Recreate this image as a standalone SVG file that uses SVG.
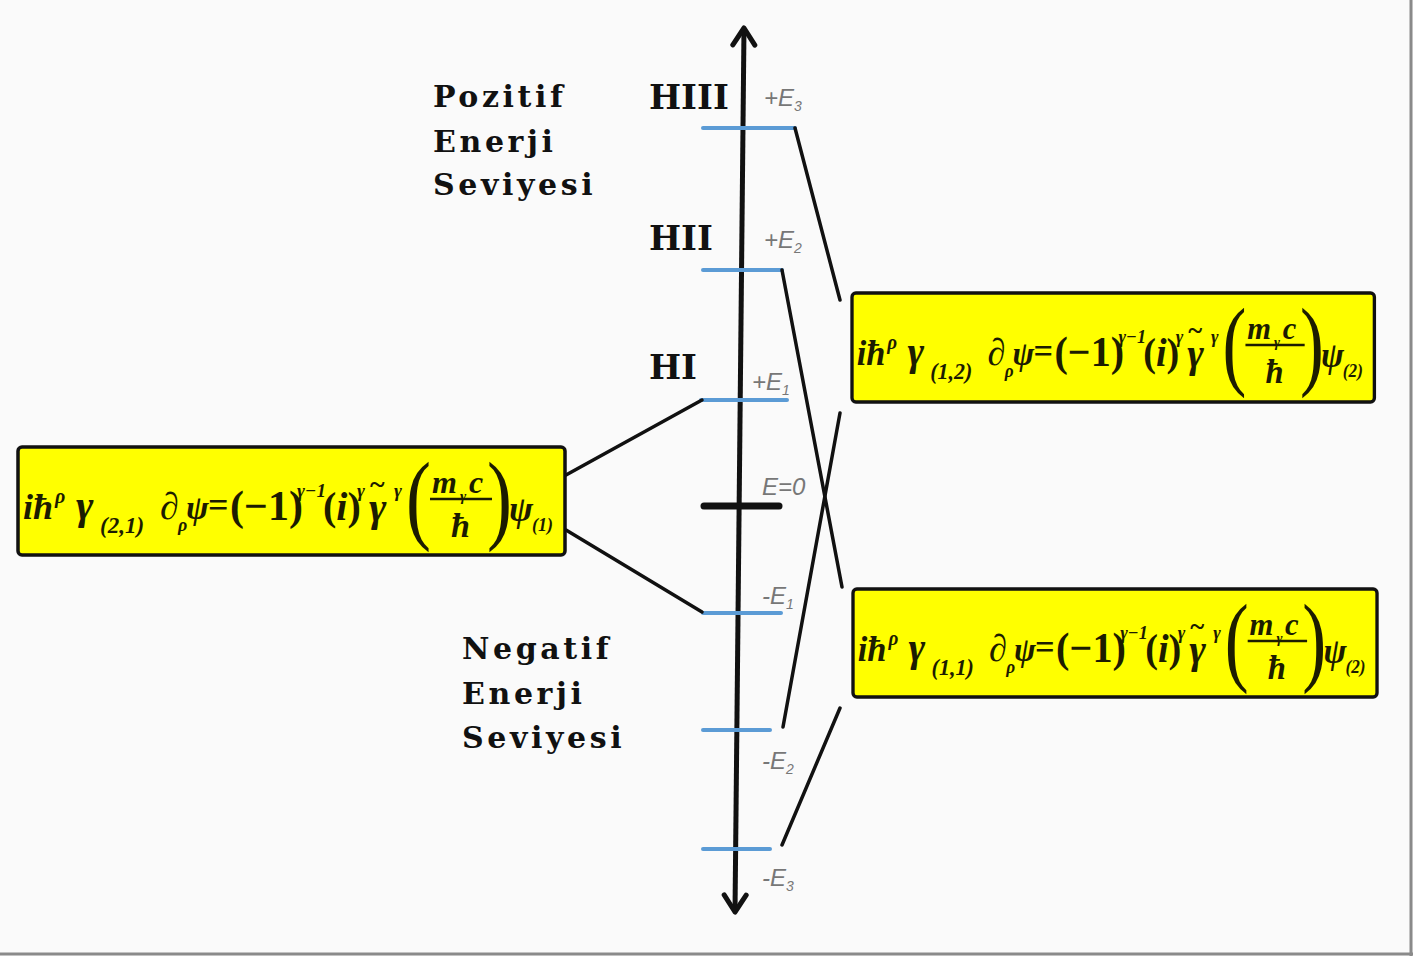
<svg xmlns="http://www.w3.org/2000/svg" width="1413" height="956" viewBox="0 0 1413 956">
<style>
.lbl{font-family:"DejaVu Serif","Liberation Serif",serif;font-weight:bold;font-size:30px;letter-spacing:3.6px;fill:#111}
.lvl{stroke:#5b9bd5;stroke-width:4;stroke-linecap:round}
.con{stroke:#111;stroke-width:3.5;fill:none;stroke-linecap:round}
.el{font-family:"Liberation Sans","DejaVu Sans",sans-serif;font-style:italic;font-size:24px;fill:#777}
.box{fill:#ffff00;stroke:#111;stroke-width:3.5}
.eq{font-family:"Liberation Serif","DejaVu Serif",serif;font-weight:bold;font-style:italic;fill:#1c1c00}
.up{font-style:normal}
.rom{font-family:"DejaVu Serif","Liberation Serif",serif;font-weight:bold;font-size:34px;fill:#111}
</style>
<defs>
<marker id="ah" viewBox="0 0 24 28" refX="21" refY="14" markerWidth="24" markerHeight="28" markerUnits="userSpaceOnUse" orient="auto-start-reverse">
<path d="M4,3 L21,14 L4,25" fill="none" stroke="#111" stroke-width="5" stroke-linecap="round" stroke-linejoin="round"/>
</marker>
<g id="eqbase" class="eq">
<text x="5" y="72" font-size="36">iħ</text>
<text x="37" y="56" font-size="20">ρ</text>
<text x="58" y="72" font-size="42">γ</text>
<text x="142" y="72" font-size="38">∂</text>
<text x="160" y="84" font-size="18">ρ</text>
<text x="168" y="72" font-size="34">ψ</text>
<text x="190" y="70" font-size="36" class="up">=</text>
<text x="212" y="73" font-size="42" class="up">(−1)</text>
<text x="279" y="50" font-size="19">γ−1</text>
<text x="305" y="73" font-size="40" class="up">(<tspan font-style="italic">i</tspan>)</text>
<text x="339" y="50" font-size="19">γ</text>
<text x="351" y="74" font-size="42">γ</text>
<text x="352" y="46" font-size="28" class="up">~</text>
<text x="376" y="50" font-size="19">γ</text>
<text transform="translate(388,84) scale(0.75,1)" font-size="100" class="up" font-weight="normal">(</text>
<text x="414" y="46" font-size="32">m</text>
<text x="442" y="54" font-size="15">γ</text>
<text x="451" y="46" font-size="32">c</text>
<line x1="412" y1="52" x2="474" y2="52" stroke="#1c1c00" stroke-width="2.5"/>
<text x="433" y="90" font-size="34">ħ</text>
<text transform="translate(469,84) scale(0.75,1)" font-size="100" class="up" font-weight="normal">)</text>
<text x="491" y="74" font-size="36">ψ</text>
</g>
</defs>
<rect x="0" y="0" width="1413" height="956" fill="#fafafa"/>
<line x1="1411" y1="0" x2="1411" y2="956" stroke="#8a8a8a" stroke-width="3"/>
<line x1="0" y1="954" x2="1413" y2="954" stroke="#8a8a8a" stroke-width="3"/>

<g id="labels">
<g id="pozitif">
<text class="lbl" x="433" y="107">Pozitif</text>
<text class="lbl" x="433" y="152">Enerji</text>
<text class="lbl" x="433" y="195">Seviyesi</text>
</g>
<g id="negatif">
<text class="lbl" x="462" y="659">Negatif</text>
<text class="lbl" x="462" y="704">Enerji</text>
<text class="lbl" x="462" y="748">Seviyesi</text>
</g>
<text id="h3" class="rom" x="649" y="109">HIII</text>
<text id="h2" class="rom" x="649" y="250">HII</text>
<text id="h1" class="rom" x="649" y="379">HI</text>
</g>

<g id="axis">
<line x1="735" y1="912" x2="744" y2="28" style="stroke:#111;stroke-width:5;fill:none" marker-start="url(#ah)" marker-end="url(#ah)"/>
</g>

<g id="levels">
<line class="lvl" x1="703" y1="128" x2="795" y2="128"/>
<line class="lvl" x1="703" y1="270" x2="782" y2="270"/>
<line class="lvl" x1="701" y1="400" x2="787" y2="400"/>
<line x1="704" y1="506" x2="779" y2="506" stroke="#111" stroke-width="7" stroke-linecap="round"/>
<line class="lvl" x1="703" y1="613" x2="781" y2="613"/>
<line class="lvl" x1="703" y1="730" x2="770" y2="730"/>
<line class="lvl" x1="703" y1="849" x2="770" y2="849"/>
</g>

<g id="level-labels">
<text class="el" x="764" y="106">+E<tspan font-size="14" dy="5">3</tspan></text>
<text class="el" x="764" y="248">+E<tspan font-size="14" dy="5">2</tspan></text>
<text class="el" x="752" y="390">+E<tspan font-size="14" dy="5">1</tspan></text>
<text class="el" x="762" y="495" font-style="normal">E=0</text>
<text class="el" x="762" y="604">-E<tspan font-size="14" dy="5">1</tspan></text>
<text class="el" x="762" y="769">-E<tspan font-size="14" dy="5">2</tspan></text>
<text class="el" x="762" y="886">-E<tspan font-size="14" dy="5">3</tspan></text>
</g>

<g id="connectors">
<line class="con" x1="566" y1="475" x2="702" y2="400"/>
<line class="con" x1="566" y1="530" x2="702" y2="612"/>
<line class="con" x1="795" y1="128" x2="840" y2="300"/>
<line class="con" x1="782" y1="270" x2="842" y2="587"/>
<line class="con" x1="840" y1="413" x2="783" y2="727"/>
<line class="con" x1="840" y1="708" x2="782" y2="845"/>
</g>

<g id="eq-left" transform="translate(18,447)">
<rect class="box" x="0" y="0" width="547" height="108" rx="4"/>
<use href="#eqbase"/>
<text class="eq" x="82" y="86" font-size="23">(2,1)</text>
<text class="eq" x="514" y="84" font-size="18">(1)</text>
</g>

<g id="eq-right-top" transform="translate(852,293) scale(0.955,1)">
<rect class="box" x="0" y="0" width="547" height="109" rx="4"/>
<use href="#eqbase"/>
<text class="eq" x="82" y="86" font-size="23">(1,2)</text>
<text class="eq" x="514" y="84" font-size="18">(2)</text>
</g>

<g id="eq-right-bottom" transform="translate(853,589) scale(0.958,1)">
<rect class="box" x="0" y="0" width="547" height="108" rx="4"/>
<use href="#eqbase"/>
<text class="eq" x="82" y="86" font-size="23">(1,1)</text>
<text class="eq" x="514" y="84" font-size="18">(2)</text>
</g>
</svg>
